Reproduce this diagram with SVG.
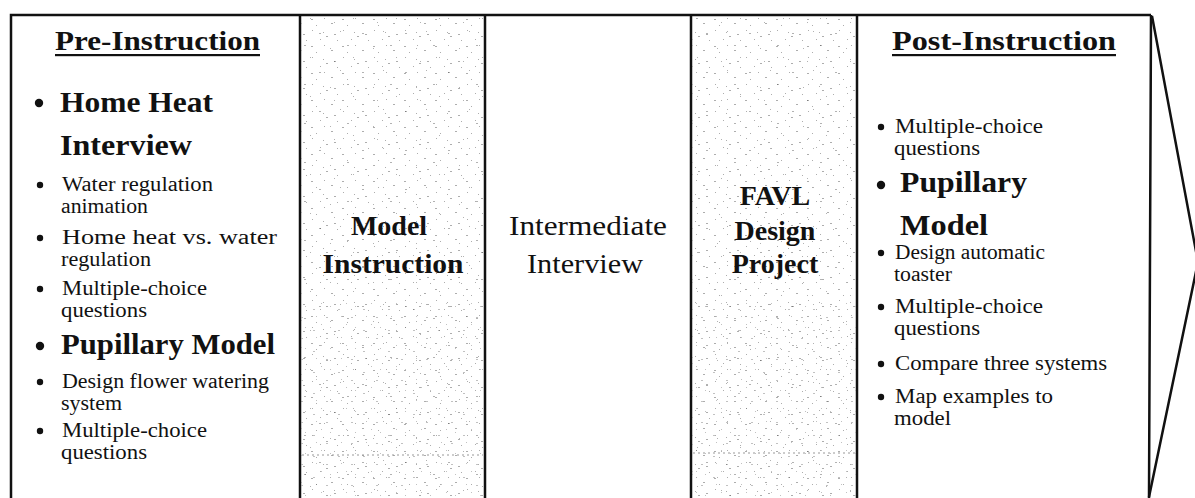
<svg xmlns="http://www.w3.org/2000/svg" width="1195" height="498" viewBox="0 0 1195 498">
<style>
text{font-family:"Liberation Serif","Times New Roman",serif;fill:#111}
.h{font-size:27px;font-weight:bold}
.big{font-size:29px;font-weight:bold}
.sm{font-size:20.5px}
.mb{font-size:28px;font-weight:bold}
.m{font-size:27px}
.line{stroke:#111;stroke-width:2.5;fill:none}
.dot{fill:#111}
.dash{stroke:#999;stroke-width:1;stroke-dasharray:2 3}
</style>
<defs>
<pattern id="stipA" width="31" height="27" patternUnits="userSpaceOnUse">
<g fill="#333" fill-opacity="0.4">
<rect x="2" y="3" width="1" height="1"/><rect x="13" y="5" width="1" height="1"/><rect x="24" y="7" width="2" height="1"/><rect x="10" y="12" width="1" height="1"/><rect x="16" y="9" width="2" height="1"/><rect x="27" y="13" width="1" height="1"/><rect x="1" y="19" width="2" height="1"/><rect x="14" y="18" width="1" height="1"/><rect x="21" y="23" width="2" height="1"/><rect x="6" y="25" width="1" height="1"/>
</g>
</pattern>
<pattern id="stipB" width="43" height="39" patternUnits="userSpaceOnUse">
<g fill="#222" fill-opacity="0.35">
<rect x="3" y="6" width="2" height="1"/><rect x="29" y="9" width="1" height="1"/><rect x="9" y="18" width="1" height="1"/><rect x="33" y="22" width="1" height="1"/><rect x="18" y="33" width="2" height="1"/><rect x="39" y="31" width="1" height="1"/>
</g>
</pattern>
<pattern id="stipC" width="25" height="21" patternUnits="userSpaceOnUse">
<g fill="#333" fill-opacity="0.3">
<rect x="1" y="2" width="2" height="1"/><rect x="16" y="1" width="1" height="1"/><rect x="5" y="12" width="1" height="1"/><rect x="13" y="15" width="2" height="1"/><rect x="21" y="9" width="1" height="1"/>
</g>
</pattern>
</defs>
<rect width="1195" height="498" fill="#fff"/>

<g id="frame">
<path class="line" d="M11 498 V15 H1151"/>
<path class="line" d="M300 15 V498 M485 15 V498 M691 15 V498 M857 15 V498 M1151 15 L1149 498"/>
</g>

<g id="pre-instruction">
<text class="h" x="157.5" y="50" text-anchor="middle" textLength="205" lengthAdjust="spacingAndGlyphs">Pre-Instruction</text>
<rect x="55" y="54" width="205" height="2.2" fill="#111"/>
<circle class="dot" cx="39" cy="103" r="4.2"/>
<text class="big" x="60" y="112" textLength="153" lengthAdjust="spacingAndGlyphs">Home Heat</text>
<text class="big" x="60" y="155" textLength="132" lengthAdjust="spacingAndGlyphs">Interview</text>
<circle class="dot" cx="40" cy="185" r="3.2"/>
<text class="sm" x="62" y="191" textLength="151" lengthAdjust="spacingAndGlyphs">Water regulation</text>
<text class="sm" x="61" y="213" textLength="87" lengthAdjust="spacingAndGlyphs">animation</text>
<circle class="dot" cx="40" cy="238" r="3.2"/>
<text class="sm" x="62" y="244" textLength="215" lengthAdjust="spacingAndGlyphs">Home heat vs. water</text>
<text class="sm" x="61" y="266" textLength="90" lengthAdjust="spacingAndGlyphs">regulation</text>
<circle class="dot" cx="40" cy="289" r="3.2"/>
<text class="sm" x="62" y="295" textLength="145" lengthAdjust="spacingAndGlyphs">Multiple-choice</text>
<text class="sm" x="61" y="317" textLength="86" lengthAdjust="spacingAndGlyphs">questions</text>
<circle class="dot" cx="40" cy="346" r="4.2"/>
<text class="big" x="61" y="354" textLength="214" lengthAdjust="spacingAndGlyphs">Pupillary Model</text>
<circle class="dot" cx="40" cy="382" r="3.2"/>
<text class="sm" x="62" y="388" textLength="207" lengthAdjust="spacingAndGlyphs">Design flower watering</text>
<text class="sm" x="61" y="410" textLength="61" lengthAdjust="spacingAndGlyphs">system</text>
<circle class="dot" cx="40" cy="431" r="3.2"/>
<text class="sm" x="62" y="437" textLength="145" lengthAdjust="spacingAndGlyphs">Multiple-choice</text>
<text class="sm" x="61" y="459" textLength="86" lengthAdjust="spacingAndGlyphs">questions</text>
</g>

<g id="model-instruction">
<rect x="301.5" y="16.5" width="182" height="481.5" fill="url(#stipA)"/>
<rect x="301.5" y="16.5" width="182" height="481.5" fill="url(#stipB)"/>
<rect x="301.5" y="300" width="182" height="198" fill="url(#stipC)"/>
<line class="dash" x1="302" y1="455" x2="483" y2="455"/>
<text class="mb" x="389" y="235" text-anchor="middle">Model</text>
<text class="mb" x="393" y="273" text-anchor="middle" textLength="141" lengthAdjust="spacingAndGlyphs">Instruction</text>
</g>

<g id="intermediate-interview">
<text class="m" x="588" y="235" text-anchor="middle" textLength="158" lengthAdjust="spacingAndGlyphs">Intermediate</text>
<text class="m" x="585" y="273" text-anchor="middle" textLength="116" lengthAdjust="spacingAndGlyphs">Interview</text>
</g>

<g id="favl-design-project">
<rect x="692.5" y="16.5" width="163" height="481.5" fill="url(#stipA)"/>
<rect x="692.5" y="16.5" width="163" height="481.5" fill="url(#stipB)"/>
<rect x="692.5" y="300" width="163" height="198" fill="url(#stipC)"/>
<line class="dash" x1="693" y1="453" x2="855" y2="453"/>
<text class="mb" x="775" y="205" text-anchor="middle">FAVL</text>
<text class="mb" x="775" y="240" text-anchor="middle">Design</text>
<text class="mb" x="775" y="273" text-anchor="middle">Project</text>
</g>

<g id="post-instruction">
<text class="h" x="1004" y="50" text-anchor="middle" textLength="224" lengthAdjust="spacingAndGlyphs">Post-Instruction</text>
<rect x="892" y="54" width="224" height="2.2" fill="#111"/>
<circle class="dot" cx="881" cy="127" r="3.2"/>
<text class="sm" x="895" y="133" textLength="148" lengthAdjust="spacingAndGlyphs">Multiple-choice</text>
<text class="sm" x="894" y="155" textLength="86" lengthAdjust="spacingAndGlyphs">questions</text>
<circle class="dot" cx="881" cy="185" r="4.2"/>
<text class="big" x="900" y="192" textLength="127" lengthAdjust="spacingAndGlyphs">Pupillary</text>
<text class="big" x="900" y="235" textLength="88" lengthAdjust="spacingAndGlyphs">Model</text>
<circle class="dot" cx="881" cy="253" r="3.2"/>
<text class="sm" x="895" y="259" textLength="150" lengthAdjust="spacingAndGlyphs">Design automatic</text>
<text class="sm" x="894" y="281" textLength="58" lengthAdjust="spacingAndGlyphs">toaster</text>
<circle class="dot" cx="881" cy="307" r="3.2"/>
<text class="sm" x="895" y="313" textLength="148" lengthAdjust="spacingAndGlyphs">Multiple-choice</text>
<text class="sm" x="894" y="335" textLength="86" lengthAdjust="spacingAndGlyphs">questions</text>
<circle class="dot" cx="881" cy="364" r="3.2"/>
<text class="sm" x="895" y="370" textLength="212" lengthAdjust="spacingAndGlyphs">Compare three systems</text>
<circle class="dot" cx="881" cy="397" r="3.2"/>
<text class="sm" x="895" y="403" textLength="158" lengthAdjust="spacingAndGlyphs">Map examples to</text>
<text class="sm" x="894" y="425" textLength="57" lengthAdjust="spacingAndGlyphs">model</text>
</g>

<g id="connectors">
<path class="line" d="M1152 16 L1198 262 L1149 497"/>
</g>
</svg>
